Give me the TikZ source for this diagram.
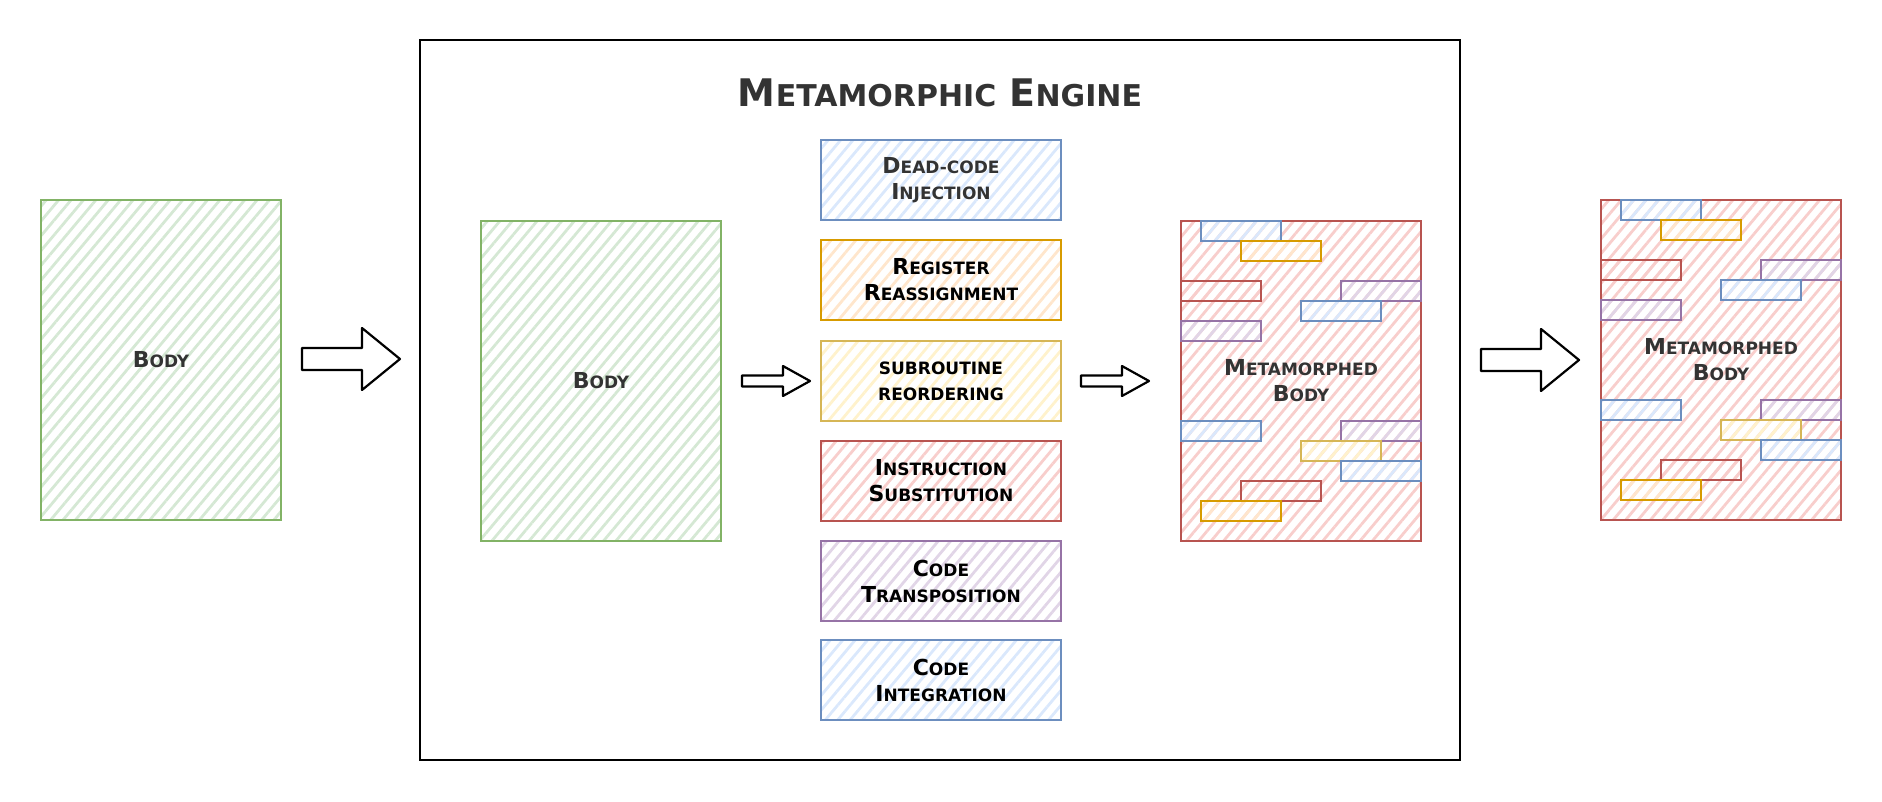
\documentclass[tikz,border=0pt]{standalone}
\usepackage{fontspec}
\setmainfont{DejaVu Sans}
\usetikzlibrary{patterns.meta}
\definecolor{gF}{HTML}{D5E8D4}\definecolor{gS}{HTML}{82B366}
\definecolor{bF}{HTML}{DAE8FC}\definecolor{bS}{HTML}{6C8EBF}
\definecolor{oF}{HTML}{FFE6CC}\definecolor{oS}{HTML}{D79B00}
\definecolor{yF}{HTML}{FFF2CC}\definecolor{yS}{HTML}{D6B656}
\definecolor{rF}{HTML}{F8CECC}\definecolor{rS}{HTML}{B85450}
\definecolor{pF}{HTML}{E1D5E7}\definecolor{pS}{HTML}{9673A6}
\definecolor{txt}{HTML}{333333}
\newcommand\techfont{\fontsize{22pt}{26pt}\selectfont\bfseries}
\newcommand\sm[1]{{\fontsize{17pt}{26pt}\selectfont #1}}
\newcommand\tsm[1]{{\fontsize{30pt}{40pt}\selectfont #1}}
\newcommand\blockarrow[6]{% x1 x2 yc shafthalf headhalf headstart
  \draw[blockarr] (#1,#3-#4) -- (#6,#3-#4) -- (#6,#3-#5) -- (#2,#3) -- (#6,#3+#5) -- (#6,#3+#4) -- (#1,#3+#4) -- cycle;}
\tikzset{
  hatch/.style={pattern={Lines[angle=50,distance=9.5pt,line width=2.8pt]},pattern color=#1},
  sbox/.style 2 args={draw=#2, line width=2.6pt, hatch=#1, inner sep=0pt, outer sep=0pt,
     anchor=north west, align=center, font=\techfont},
  bigbox/.style 2 args={sbox={#1}{#2}, minimum width=240pt, minimum height=320pt, text=txt},
  techbox/.style 2 args={sbox={#1}{#2}, minimum width=240pt, minimum height=80pt, text=black},
  chip/.style 2 args={sbox={#1}{#2}, minimum width=80pt, minimum height=20pt},
  blockarr/.style={draw=black, line width=2.2pt, fill=white, line join=round},
}
\begin{document}
\begin{tikzpicture}[x=1pt,y=-1pt]
\useasboundingbox (0,0) rectangle (1882,802);
% engine frame
\node[draw=black, line width=2.6pt, inner sep=0pt, outer sep=0pt, anchor=north west,
      minimum width=1040pt, minimum height=720pt] (engine) at (420,40) {};
\node[anchor=base, text=txt, font=\fontsize{38pt}{40pt}\selectfont\bfseries] (title) at (940,107)
  {M\tsm{ETAMORPHIC} E\tsm{NGINE}};
% bodies
\node[bigbox={gF}{gS}] (body1) at (41,200) {B\sm{ODY}};
\node[bigbox={gF}{gS}] (body2) at (481,221) {B\sm{ODY}};
% techniques
\node[techbox={bF}{bS}, text=txt] (t1) at (821,140) {D\sm{EAD-CODE}\\I\sm{NJECTION}};
\node[techbox={oF}{oS}] (t2) at (821,240) {R\sm{EGISTER}\\R\sm{EASSIGNMENT}};
\node[techbox={yF}{yS}] (t3) at (821,341) {\sm{SUBROUTINE}\\\sm{REORDERING}};
\node[techbox={rF}{rS}] (t4) at (821,441) {I\sm{NSTRUCTION}\\S\sm{UBSTITUTION}};
\node[techbox={pF}{pS}] (t5) at (821,541) {C\sm{ODE}\\T\sm{RANSPOSITION}};
\node[techbox={bF}{bS}] (t6) at (821,640) {C\sm{ODE}\\I\sm{NTEGRATION}};
% metamorphed bodies
\node[bigbox={rF}{rS}] (mb1) at (1181,221) {};
\node[bigbox={rF}{rS}] (mb2) at (1601,200) {};
\foreach \base/\nm in {mb1/a, mb2/b}{
  \foreach \dx/\dy/\cf/\cs [count=\i] in {20/0/bF/bS, 60/20/oF/oS, 0/60/rF/rS, 160/60/pF/pS,
      120/80/bF/bS, 0/100/pF/pS, 0/200/bF/bS, 160/200/pF/pS, 120/220/yF/yS,
      160/240/bF/bS, 60/260/rF/rS, 20/280/oF/oS}{
    \node[chip={\cf}{\cs}] (\nm\i) at ([shift={(\dx,\dy)}]\base.north west) {};
  }
}
\node[align=center, text=txt, font=\techfont] (mt1) at (mb1.center) {M\sm{ETAMORPHED}\\B\sm{ODY}};
\node[align=center, text=txt, font=\techfont] (mt2) at (mb2.center) {M\sm{ETAMORPHED}\\B\sm{ODY}};
% block arrows
\blockarrow{302}{400}{359}{11}{31}{362}
\blockarrow{742}{810}{381}{5.5}{15}{783}
\blockarrow{1081}{1149}{381}{5.5}{15}{1122}
\blockarrow{1481}{1579}{360}{11}{31}{1541}
\end{tikzpicture}
\end{document}
